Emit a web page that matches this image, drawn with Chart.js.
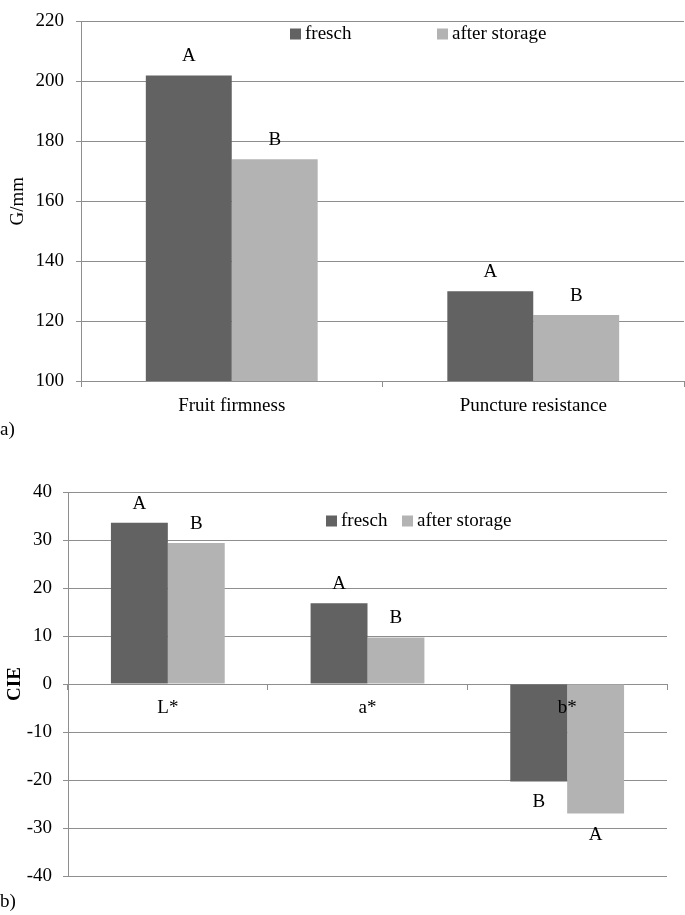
<!DOCTYPE html>
<html>
<head>
<meta charset="utf-8">
<script src="https://cdn.jsdelivr.net/npm/chart.js@4/dist/chart.umd.min.js"></script>
<style>
  body { margin: 0; background: #fff; width: 685px; height: 915px; position: relative; overflow: hidden; }
  canvas { position: absolute; left: 0; }
  #firmChart { top: 0; }
  #colorChart { top: 465px; }
  .tag { position: absolute; left: 0; font: 19px "Liberation Serif", "Times New Roman", serif; color: #000; line-height: 19px; }
</style>
</head>
<body>
<canvas id="firmChart" width="685" height="420"></canvas>
<canvas id="colorChart" width="685" height="450"></canvas>
<div class="tag" style="top:419px">a)</div>
<div class="tag" style="top:891px">b)</div>
<script>
// a) firmness
const firmCategories = ['Fruit firmness', 'Puncture resistance'];
const firmFresh = [202, 130];
const firmStored = [174, 122];
const firmFreshLetters = ['A', 'A'];
const firmStoredLetters = ['B', 'B'];
const firmTicks = [100, 120, 140, 160, 180, 200, 220];

// b) CIE colour
const colorCategories = ['L*', 'a*', 'b*'];
const colorFresh = [33.6, 16.8, -20.3];
const colorStored = [29.4, 9.7, -27.0];
const colorFreshLetters = ['A', 'A', 'B'];
const colorStoredLetters = ['B', 'B', 'A'];
const colorTicks = [-40, -30, -20, -10, 0, 10, 20, 30, 40];

const seriesNames = ['fresch', 'after storage'];
const DARK = '#626262';
const LIGHT = '#b3b3b3';
const GRID = '#8e8e8e';
const FONT = '"Liberation Serif", "Times New Roman", serif';

Chart.defaults.font.family = FONT;
Chart.defaults.font.size = 19;
Chart.defaults.color = '#000';

// letters above / below each bar
const letterPlugin = {
  id: 'letters',
  afterDatasetsDraw(chart, args, opts) {
    const ctx = chart.ctx;
    ctx.save();
    ctx.font = '19px ' + FONT;
    ctx.fillStyle = '#000';
    ctx.textAlign = 'center';
    ctx.textBaseline = 'middle';
    chart.data.datasets.forEach((ds, i) => {
      chart.getDatasetMeta(i).data.forEach((bar, j) => {
        const v = ds.data[j];
        const y = v >= 0 ? bar.y - 19 : bar.y + 21;
        ctx.fillText(ds.letters[j], bar.x, y);
      });
    });
    ctx.restore();
  }
};

// legend drawn inside the plot area
const innerLegend = {
  id: 'innerLegend',
  afterDraw(chart, args, opts) {
    const ctx = chart.ctx;
    ctx.save();
    ctx.font = '19px ' + FONT;
    ctx.textBaseline = 'middle';
    ctx.textAlign = 'left';
    chart.data.datasets.forEach((ds, i) => {
      const x = opts.xs[i];
      ctx.fillStyle = ds.backgroundColor;
      ctx.fillRect(x, opts.y - 5.5, 11, 11);
      ctx.fillStyle = '#000';
      ctx.fillText(ds.label, x + 15, opts.y);
    });
    ctx.restore();
  }
};

function makeChart(id, cfg) {
  return new Chart(document.getElementById(id), {
    type: 'bar',
    data: {
      labels: cfg.categories,
      datasets: [
        { label: seriesNames[0], data: cfg.fresh, letters: cfg.freshLetters, backgroundColor: DARK,
          categoryPercentage: 0.57, barPercentage: 1.0 },
        { label: seriesNames[1], data: cfg.stored, letters: cfg.storedLetters, backgroundColor: LIGHT,
          categoryPercentage: 0.57, barPercentage: 1.0 },
      ],
    },
    options: {
      responsive: false,
      animation: false,
      devicePixelRatio: 1,
      layout: { padding: cfg.padding },
      plugins: {
        legend: { display: false },
        tooltip: { enabled: false },
        innerLegend: cfg.legend,
      },
      scales: {
        x: {
          position: cfg.xPosition,
          grid: { drawOnChartArea: false, offset: true, tickLength: cfg.xTick, color: GRID },
          border: { color: GRID },
          ticks: { z: 1, padding: cfg.xPad, color: '#000', font: { size: 19 } },
          afterFit: cfg.xHeight ? (s => { s.height = cfg.xHeight; }) : undefined,
        },
        y: {
          min: cfg.ticks[0],
          max: cfg.ticks[cfg.ticks.length - 1],
          grid: { color: GRID, tickLength: 5 },
          border: { color: GRID },
          ticks: { stepSize: cfg.ticks[1] - cfg.ticks[0], padding: cfg.yPad, color: '#000',
                   font: { size: 19, lineHeight: 1 } },
          title: { display: true, text: cfg.yTitle, color: '#000',
                   font: { size: 19, weight: cfg.yBold ? 'bold' : 'normal' },
                   padding: { top: cfg.titlePad, bottom: 0 } },
          afterFit: s => { s.width = cfg.yWidth; },
        },
      },
    },
    plugins: [letterPlugin, innerLegend],
  });
}

makeChart('firmChart', {
  categories: firmCategories, fresh: firmFresh, stored: firmStored,
  freshLetters: firmFreshLetters, storedLetters: firmStoredLetters, ticks: firmTicks,
  yTitle: 'G/mm', yBold: false, titlePad: 7,
  padding: { top: 10, right: 1, bottom: 0, left: 0 },
  xPosition: 'bottom', xHeight: 39, xTick: 6, xPad: 8, yPad: 12, yWidth: 81,
  legend: { xs: [290, 437], y: 34 },
});

makeChart('colorChart', {
  categories: colorCategories, fresh: colorFresh, stored: colorStored,
  freshLetters: colorFreshLetters, storedLetters: colorStoredLetters, ticks: colorTicks,
  yTitle: 'CIE', yBold: true, titlePad: 4,
  padding: { top: 27, right: 18, bottom: 39, left: 0 },
  xPosition: { y: 0 }, xHeight: 0, xTick: 5, xPad: 8, yPad: 11, yWidth: 68,
  legend: { xs: [326, 402], y: 56 },
});
</script>
</body>
</html>
